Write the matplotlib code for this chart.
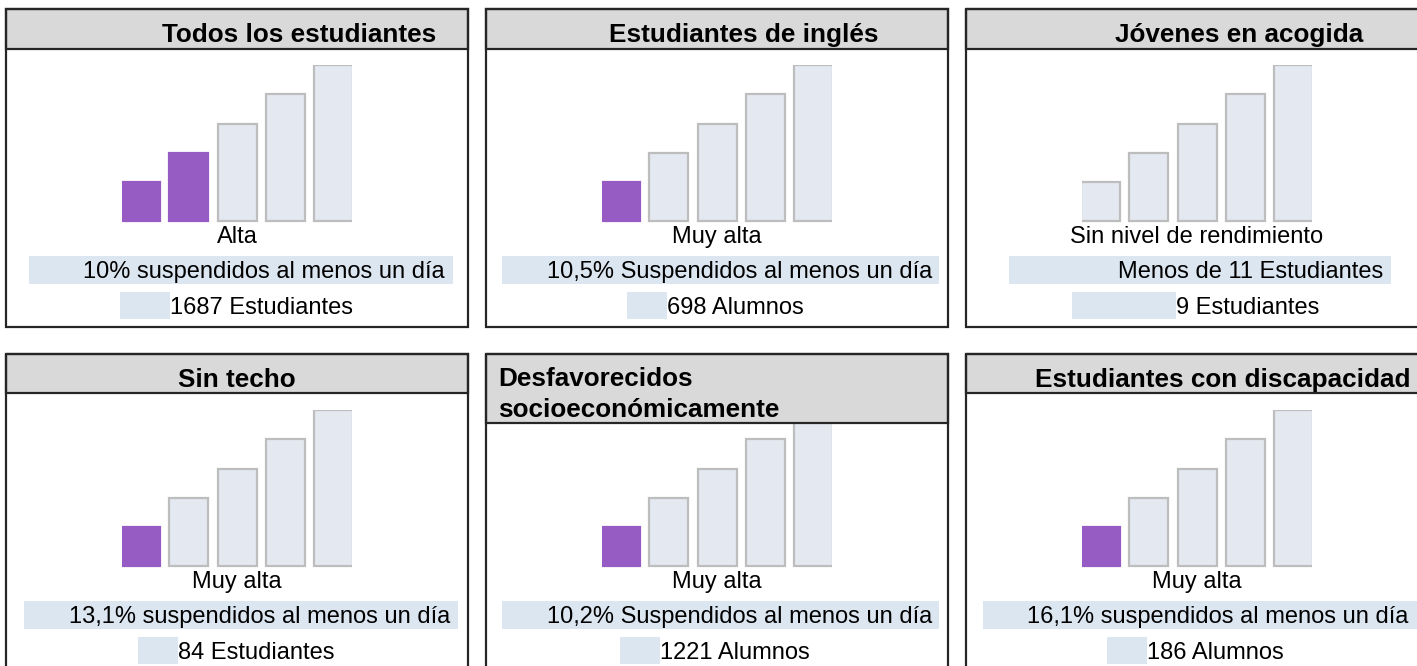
import matplotlib
matplotlib.use("Agg")
import matplotlib.pyplot as plt
from matplotlib.patches import Rectangle

# ---------------- data ----------------
titles = ["Todos los estudiantes", "Estudiantes de inglés", "Jóvenes en acogida",
          "Sin techo", "Desfavorecidos\nsocioeconómicamente", "Estudiantes con discapacidad"]
levels = ["Alta", "Muy alta", "Sin nivel de rendimiento", "Muy alta", "Muy alta", "Muy alta"]
filled_bars = [2, 1, 0, 1, 1, 1]
rates = ["10% suspendidos al menos un día", "10,5% Suspendidos al menos un día",
         "Menos de 11 Estudiantes", "13,1% suspendidos al menos un día",
         "10,2% Suspendidos al menos un día", "16,1% suspendidos al menos un día"]
counts = ["1687 Estudiantes", "698 Alumnos", "9 Estudiantes",
          "84 Estudiantes", "1221 Alumnos", "186 Alumnos"]
bar_heights = [4, 7, 10, 13, 16]

# ---------------- layout (pixels) ----------------
W, H = 1417, 666
panel_left = [6, 486, 966, 6, 486, 966]
panel_top = [9, 9, 9, 354, 354, 354]
panel_w = 462
panel_h = 318
header_h = [40, 40, 40, 39, 69, 39]
title_cx = [293, 257.5, 273, 231, 12, 257]
title_ha = ["center", "center", "center", "center", "left", "center"]
band2 = [(23, 447, 439), (16, 453, 446), (43, 425, 417), (18, 452, 444), (16, 453, 446), (17, 470, 442)]
band3 = [(114, 164), (141, 181), (106, 210), (132, 172), (134, 174), (141, 181)]
level_cx = 231

PURPLE = "#975CC3"
LIGHT = "#E4E9F1"
EDGE = "#BDBDBD"
BAND = "#DCE6F1"
HEADER = "#D9D9D9"
BORDER = "#262626"

plt.rcParams["font.family"] = ["Liberation Sans", "DejaVu Sans"]
BODY = 17
TITLE = 18.8

fig = plt.figure(figsize=(W / 100, H / 100), dpi=100)
fig.patch.set_facecolor("white")

# bar axes (drawn below overlay)
unit_px = 48.3
bw = 0.81
hpx = 9.75
clip = 0.025
for i in range(6):
    L, T = panel_left[i], panel_top[i]
    base_y = T + 212  # bottom of bars
    xl0, xl1 = -bw / 2 + clip, 4 + bw / 2 - 0.03
    yl0, yl1 = -0.2, 16.0
    ax_w = (xl1 - xl0) * unit_px
    ax_h = (yl1 - yl0) * hpx
    left = L + 115 + clip * unit_px
    ax = fig.add_axes([left / W, 1 - (base_y + 0.2 * hpx) / H, ax_w / W, ax_h / H])
    ax.set_xlim(xl0, xl1)
    ax.set_ylim(yl0, yl1)
    ax.axis("off")
    ax.set_zorder(1)
    colors = [PURPLE if k < filled_bars[i] else LIGHT for k in range(5)]
    edges = [PURPLE if k < filled_bars[i] else EDGE for k in range(5)]
    ax.bar(range(5), bar_heights, width=bw, color=colors, edgecolor=edges, linewidth=1.6)

# overlay axes in pixel coordinates
ov = fig.add_axes([0, 0, 1, 1])
ov.set_xlim(0, W)
ov.set_ylim(H, 0)
ov.axis("off")
ov.set_zorder(2)
ov.patch.set_alpha(0)

for i in range(6):
    L, T = panel_left[i], panel_top[i]
    # header
    ov.add_patch(Rectangle((L, T), panel_w, header_h[i], facecolor=HEADER,
                           edgecolor=BORDER, linewidth=1.6, zorder=3))
    # box
    ov.add_patch(Rectangle((L, T), panel_w, panel_h, facecolor="none",
                           edgecolor=BORDER, linewidth=1.6, zorder=4))
    # title
    if i == 4:
        ov.text(L + title_cx[i], T + 32, titles[i].split("\n")[0], ha="left", va="baseline",
                fontsize=TITLE, fontweight="bold", zorder=5)
        ov.text(L + title_cx[i], T + 63, titles[i].split("\n")[1], ha="left", va="baseline",
                fontsize=TITLE, fontweight="bold", zorder=5)
    else:
        ov.text(L + title_cx[i], T + 33, titles[i], ha=title_ha[i], va="baseline",
                fontsize=TITLE, fontweight="bold", zorder=5)
    # level label
    ov.text(L + level_cx, T + 234, levels[i], ha="center", va="baseline",
            fontsize=BODY, zorder=5)
    # rate band + text
    b0, b1, tr = band2[i]
    ov.add_patch(Rectangle((L + b0, T + 247), b1 - b0, 28, facecolor=BAND,
                           edgecolor="none", zorder=3))
    ov.text(L + tr, T + 269, rates[i], ha="right", va="baseline", fontsize=BODY, zorder=5)
    # count band + text
    c0, c1 = band3[i]
    ov.add_patch(Rectangle((L + c0, T + 283), c1 - c0, 27, facecolor=BAND,
                           edgecolor="none", zorder=3))
    ov.text(L + c1, T + 305, counts[i], ha="left", va="baseline", fontsize=BODY, zorder=5)

fig.savefig("out.png", dpi=100, facecolor="white")
